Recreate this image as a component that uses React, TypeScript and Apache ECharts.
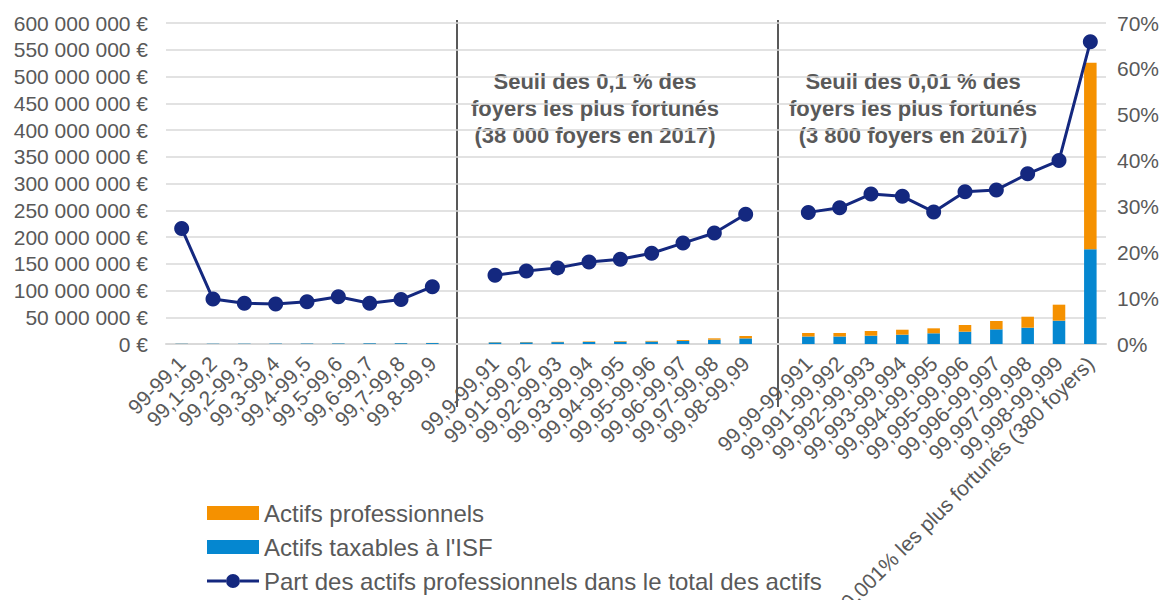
import React, { useEffect, useRef } from "react";
import * as echarts from "echarts";

const FONT = "'Liberation Sans', Arial, sans-serif";
const GREY = "#595959";

// Categories (two empty spacer categories separate the three groups)
const categories = [
  "99-99,1", "99,1-99,2", "99,2-99,3", "99,3-99,4", "99,4-99,5", "99,5-99,6", "99,6-99,7", "99,7-99,8", "99,8-99,9",
  " ",
  "99,9-99,91", "99,91-99,92", "99,92-99,93", "99,93-99,94", "99,94-99,95", "99,95-99,96", "99,96-99,97", "99,97-99,98", "99,98-99,99",
  "  ",
  "99,99-99,991", "99,991-99,992", "99,992-99,993", "99,993-99,994", "99,994-99,995", "99,995-99,996", "99,996-99,997", "99,997-99,998", "99,998-99,999",
  "0,001% les plus fortunés (380 foyers)",
];

// Actifs taxables à l'ISF (millions d'euros)
const actifsTaxables = [
  0.5, 0.55, 0.6, 0.8, 0.9, 1.0, 1.3, 1.5, 1.8,
  null,
  3.0, 3.2, 3.5, 3.9, 4.4, 4.6, 5.8, 8.0, 10.5,
  null,
  14, 14, 15.5, 17.4, 20, 23, 27.4, 30.5, 43.6, 177,
];

// Actifs professionnels (millions d'euros)
const actifsPro = [
  0.15, 0.06, 0.06, 0.08, 0.1, 0.12, 0.13, 0.17, 0.25,
  null,
  0.5, 0.6, 0.7, 0.9, 1.0, 1.2, 1.7, 2.6, 4.5,
  null,
  6.6, 6.6, 8.8, 9.3, 9.3, 12.5, 15.6, 20.5, 29.9, 348.8,
];

// Part des actifs professionnels dans le total des actifs (%)
const partPro = [
  25.2, 9.8, 8.9, 8.7, 9.2, 10.3, 8.9, 9.7, 12.5,
  null,
  15.0, 15.9, 16.6, 17.9, 18.5, 19.8, 22.0, 24.2, 28.3,
  null,
  28.7, 29.7, 32.7, 32.2, 28.8, 33.2, 33.6, 37.1, 40.0, 65.9,
];

const leftTicks = { min: 0, max: 600, interval: 50 };
const rightTicks = { min: 0, max: 70, interval: 10 };

const annotation1 = "Seuil des 0,1 % des\nfoyers les plus fortunés\n(38 000 foyers en 2017)";
const annotation2 = "Seuil des 0,01 % des\nfoyers les plus fortunés\n(3 800 foyers en 2017)";

const LINE_LEGEND_ICON =
  "path://M0 5.5H19V8.5H0Z M33 5.5H52V8.5H33Z M19 7A7 7 0 1 1 33 7A7 7 0 1 1 19 7Z";

function formatEuro(v: number) {
  const n = Math.round(v * 1000000);
  return String(n).replace(/\B(?=(\d{3})+(?!\d))/g, " ") + " €";
}

export default function App() {
  const ref = useRef<HTMLDivElement>(null);

  useEffect(() => {
    document.body.style.margin = "0";
    if (!ref.current) return;
    const chart = echarts.init(ref.current, null, { renderer: "svg" });
    chart.setOption({
      animation: false,
      textStyle: { fontFamily: FONT },
      grid: { left: 166, right: 62, top: 23, bottom: 256, containLabel: false, outerBoundsMode: "none" },
      legend: {
        orient: "vertical",
        left: 207,
        top: 501,
        padding: 0,
        height: 99,
        itemWidth: 52,
        itemHeight: 14,
        itemGap: 10,
        textStyle: { fontSize: 24, color: GREY, fontFamily: FONT },
        data: [
          { name: "Actifs professionnels", icon: "rect" },
          { name: "Actifs taxables à l'ISF", icon: "rect" },
          { name: "Part des actifs professionnels dans le total des actifs", icon: LINE_LEGEND_ICON },
        ],
      },
      xAxis: {
        type: "category",
        data: categories,
        axisLine: { show: true, lineStyle: { color: "#d9d9d9", width: 2 } },
        axisTick: { show: false },
        axisLabel: {
          interval: 0,
          rotate: 45,
          fontSize: 21,
          color: GREY,
          margin: 16,
          fontFamily: FONT,
        },
      },
      yAxis: [
        {
          type: "value",
          min: leftTicks.min,
          max: leftTicks.max,
          interval: leftTicks.interval,
          axisLine: { show: false },
          axisTick: { show: false },
          splitLine: { show: true, lineStyle: { color: "#d9d9d9", width: 1.5 } },
          axisLabel: { fontSize: 21, color: GREY, margin: 18, formatter: formatEuro, fontFamily: FONT },
        },
        {
          type: "value",
          min: rightTicks.min,
          max: rightTicks.max,
          interval: rightTicks.interval,
          axisLine: { show: false },
          axisTick: { show: false },
          splitLine: { show: false },
          axisLabel: { fontSize: 21, color: GREY, margin: 11, formatter: "{value}%", fontFamily: FONT },
        },
      ],
      series: [
        {
          name: "Actifs taxables à l'ISF",
          type: "bar",
          stack: "actifs",
          data: actifsTaxables,
          barWidth: "40%",
          itemStyle: { color: "#0587d0" },
          yAxisIndex: 0,
        },
        {
          name: "Actifs professionnels",
          type: "bar",
          stack: "actifs",
          data: actifsPro,
          barWidth: "40%",
          itemStyle: { color: "#f59100" },
          yAxisIndex: 0,
        },
        {
          name: "Part des actifs professionnels dans le total des actifs",
          type: "line",
          data: partPro,
          yAxisIndex: 1,
          connectNulls: false,
          symbol: "circle",
          symbolSize: 15,
          lineStyle: { color: "#14287f", width: 3 },
          itemStyle: { color: "#14287f" },
          z: 5,
        },
      ],
      graphic: [
        {
          type: "line",
          shape: { x1: 457, y1: 20, x2: 457, y2: 407 },
          style: { stroke: GREY, lineWidth: 2 },
        },
        {
          type: "line",
          shape: { x1: 778, y1: 20, x2: 778, y2: 407 },
          style: { stroke: GREY, lineWidth: 2 },
        },
        {
          type: "text",
          x: 595,
          y: 68,
          style: {
            text: annotation1,
            textAlign: "center",
            textVerticalAlign: "top",
            font: `bold 22px ${FONT}`,
            fill: GREY,
            lineHeight: 27,
          },
        },
        {
          type: "text",
          x: 913,
          y: 68,
          style: {
            text: annotation2,
            textAlign: "center",
            textVerticalAlign: "top",
            font: `bold 22px ${FONT}`,
            fill: GREY,
            lineHeight: 27,
          },
        },
      ],
    });
    return () => chart.dispose();
  }, []);

  return <div ref={ref} style={{ width: 1168, height: 600 }} />;
}
